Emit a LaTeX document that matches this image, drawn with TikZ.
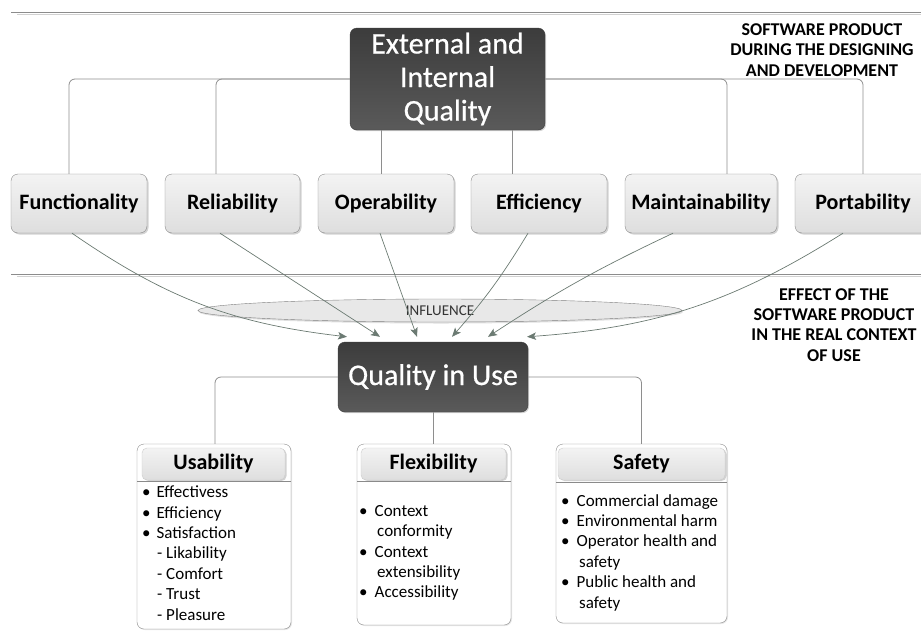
\documentclass[tikz,border=0pt]{standalone}
\usepackage{fontspec}
\setmainfont{Carlito}
\usetikzlibrary{shadows,arrows.meta,shapes.geometric}
\definecolor{connc}{HTML}{8E8E8E}
\definecolor{arrc}{HTML}{6B7A72}
\definecolor{darkA}{HTML}{3C3C3C}
\definecolor{darkB}{HTML}{5A5A5A}
\definecolor{lightA}{HTML}{F3F3F3}
\definecolor{lightB}{HTML}{DEDEDE}
\definecolor{bordc}{HTML}{8A8A8A}
\begin{document}
\begin{tikzpicture}[x=1pt,y=-1pt,
  darkbox/.style={draw=darkA, rounded corners=7pt, top color=darkA, bottom color=darkB,
    text=white, align=center, inner sep=0pt,
    drop shadow={shadow xshift=1.2pt, shadow yshift=-1.2pt, opacity=0.35}},
  qbox/.style={draw=bordc, rounded corners=7pt, top color=lightA, bottom color=lightB,
    minimum height=59pt, inner sep=0pt, font=\bfseries\fontsize{22}{26}\selectfont,
    drop shadow={shadow xshift=1.5pt, shadow yshift=-1.5pt, opacity=0.35}},
  outerbox/.style={draw=bordc, rounded corners=7pt, fill=white, inner sep=0pt,
    drop shadow={shadow xshift=1pt, shadow yshift=-1pt, opacity=0.2}},
  hdrbox/.style={draw=black!20, rounded corners=5pt, top color=lightA, bottom color=lightB,
    minimum height=32pt, inner sep=0pt, font=\bfseries\fontsize{22}{26}\selectfont,
    drop shadow={shadow xshift=1.5pt, shadow yshift=-1pt, opacity=0.35}},
  itemtext/.style={anchor=west, align=left, inner sep=0pt, font=\fontsize{17}{20.4}\selectfont},
  sidelabel/.style={align=center, inner sep=0pt, font=\bfseries\fontsize{18}{20.3}\selectfont},
  conn/.style={draw=connc, line width=0.8pt, rounded corners=6pt},
  arr/.style={draw=arrc, line width=0.7pt, -{Stealth[length=9pt,width=7.5pt,inset=2pt]}},
  sepdark/.style={draw=black!45, line width=0.8pt},
  seplight/.style={draw=black!18, line width=0.8pt}
]
\useasboundingbox (0,0) rectangle (921,643);
\clip (0,0) rectangle (921,643);

% separators
\draw[sepdark] (11,12.3) -- (925,12.3);
\draw[seplight] (17,14.6) -- (925,14.6);
\draw[sepdark] (11,274.4) -- (925,274.4);
\draw[seplight] (17,276.8) -- (925,276.8);

% side labels
\node[sidelabel] (lab1) at (822,50) {SOFTWARE PRODUCT\\DURING THE DESIGNING\\AND DEVELOPMENT};
\node[sidelabel] (lab2) at (834,325) {EFFECT OF THE\\SOFTWARE PRODUCT\\IN THE REAL CONTEXT\\OF USE};

% top tree
\node[darkbox, minimum width=195pt, minimum height=102pt, font=\addfontfeature{FakeBold=0.6}\fontsize{30}{33.5}\selectfont] (ext) at (447.5,79) {External and\\Internal\\Quality};

\node[qbox, minimum width=136pt] (func) at (79,203.5) {Functionality};
\node[qbox, minimum width=135pt] (rel) at (232.5,203.5) {Reliability};
\node[qbox, minimum width=136pt] (op) at (386,203.5) {Operability};
\node[qbox, minimum width=136pt] (eff) at (539,203.5) {Efficiency};
\node[qbox, minimum width=152pt] (maint) at (701,203.5) {Maintainability};
\node[qbox, minimum width=136pt] (port) at (863,203.5) {Portability};

\draw[conn] (ext.west) -| ([xshift=-10pt]func.north);
\draw[conn] (ext.west) -| ([xshift=-16.5pt]rel.north);
\draw[conn] ([xshift=-5pt]op.north |- ext.south) -- ([xshift=-5pt]op.north);
\draw[conn] ([xshift=-27pt]eff.north |- ext.south) -- ([xshift=-27pt]eff.north);
\draw[conn] (ext.east) -| ([xshift=26pt]maint.north);
\draw[conn] (ext.east) -| (port.north);

% influence
\node[ellipse, draw=black!50, fill=black!9, minimum width=484pt, minimum height=23pt, inner sep=0pt,
  drop shadow={shadow xshift=1pt, shadow yshift=-1.5pt, opacity=0.25}] (infl) at (440,310.5) {};
\node[font=\fontsize{15}{18}\selectfont, text=black!80, inner sep=0pt] (infltxt) at (440,310.5) {INFLUENCE};

% quality in use
\node[darkbox, minimum width=190pt, minimum height=70pt, font=\addfontfeature{FakeBold=0.6}\fontsize{30}{34}\selectfont] (qiu) at (433,377) {Quality in Use};

\draw[arr] ([xshift=-7pt]func.south) to[bend right=14] ([xshift=-86pt,yshift=5pt]qiu.north);
\draw[arr] ([xshift=-12.5pt]rel.south) -- ([xshift=-53pt,yshift=5pt]qiu.north);
\draw[arr] ([xshift=-6pt]op.south) -- ([xshift=-16pt,yshift=5pt]qiu.north);
\draw[arr] ([xshift=-11pt]eff.south) to[bend left=5] ([xshift=19pt,yshift=5pt]qiu.north);
\draw[arr] ([xshift=-28pt]maint.south) to[bend right=4] ([xshift=55pt,yshift=5pt]qiu.north);
\draw[arr] ([xshift=-20pt]port.south) to[bend left=14] ([xshift=94pt,yshift=5pt]qiu.north);

% bottom boxes
\node[outerbox, minimum width=154pt, minimum height=185pt] (usab) at (214,536.5) {};
\node[outerbox, minimum width=154pt, minimum height=181pt] (flex) at (434,534.5) {};
\node[outerbox, minimum width=171pt, minimum height=179pt] (safe) at (641.5,533.5) {};

\node[hdrbox, minimum width=143pt] (usabh) at (213.5,464) {Usability};
\node[hdrbox, minimum width=145pt] (flexh) at (433.5,464) {Flexibility};
\node[hdrbox, minimum width=167pt] (safeh) at (641.5,464) {Safety};

\draw[draw=bordc, line width=0.7pt] ([yshift=-1pt]usabh.south -| usab.west) -- ([yshift=-1pt]usabh.south -| usab.east);
\draw[draw=bordc, line width=0.7pt] ([yshift=-1pt]flexh.south -| flex.west) -- ([yshift=-1pt]flexh.south -| flex.east);
\draw[draw=bordc, line width=0.7pt] ([yshift=-2pt]safeh.south -| safe.west) -- ([yshift=-2pt]safeh.south -| safe.east);

\node[itemtext] (usabt) at (142,553) {%
\makebox[14.5pt][l]{\textbullet}Effectivess\\
\makebox[14.5pt][l]{\textbullet}Efficiency\\
\makebox[14.5pt][l]{\textbullet}Satisfaction\\
\hspace*{15pt}- Likability\\
\hspace*{15pt}- Comfort\\
\hspace*{15pt}- Trust\\
\hspace*{15pt}- Pleasure};

\node[itemtext] (flext) at (359,553) {%
\makebox[15.5pt][l]{\textbullet}Context\\
\hspace*{18pt}conformity\\
\makebox[15.5pt][l]{\textbullet}Context\\
\hspace*{18pt}extensibility\\
\makebox[15.5pt][l]{\textbullet}Accessibility};

\node[itemtext] (safet) at (561,552.5) {%
\makebox[15.5pt][l]{\textbullet}Commercial damage\\
\makebox[15.5pt][l]{\textbullet}Environmental harm\\
\makebox[15.5pt][l]{\textbullet}Operator health and\\
\hspace*{18pt}safety\\
\makebox[15.5pt][l]{\textbullet}Public health and\\
\hspace*{18pt}safety};

\draw[conn] (qiu.west) -| ([xshift=1pt]usab.north);
\draw[conn] ([xshift=-1pt]flex.north |- qiu.south) -- ([xshift=-1pt]flex.north);
\draw[conn] (qiu.east) -| (safe.north);
\end{tikzpicture}
\end{document}
